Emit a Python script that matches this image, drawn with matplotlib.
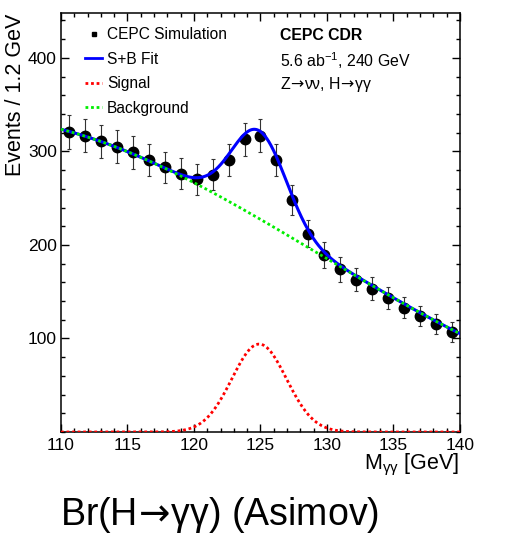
import numpy as np
import matplotlib
matplotlib.use('Agg')
import matplotlib.pyplot as plt
from matplotlib.lines import Line2D
from matplotlib.ticker import MultipleLocator, FixedLocator

plt.rcParams['font.family'] = ['Liberation Sans', 'DejaVu Sans']

# Asimov data, 1.2 GeV bins
mass_centers = [110.6, 111.8, 113.0, 114.2, 115.4, 116.6, 117.8, 119.0, 120.2,
                121.4, 122.6, 123.8, 125.0, 126.2, 127.4, 128.6, 129.8, 131.0,
                132.2, 133.4, 134.6, 135.8, 137.0, 138.2, 139.4]
counts = [321, 317, 311, 305, 299, 291, 283, 276, 270, 275, 291, 313, 317,
          291, 248, 212, 189, 174, 163, 153, 143, 133, 124, 115, 107]

# background curve
bkg_mass = [110, 112.5, 115, 117.5, 120, 122.5, 125, 127.5, 130, 132.5, 135, 137.5, 140]
bkg_events = [323, 313, 300, 286, 268, 246, 225, 205, 186, 165, 145, 124, 104]

# signal peak (gaussian fit parameters)
sig_mean = 124.9
sig_sigma = 2.05
sig_peak = 94.0

fig = plt.figure(figsize=(5.09, 5.48), dpi=100)
ax = fig.add_axes([61 / 509, 116 / 548, 399 / 509, 419 / 548])

m = np.linspace(110, 140, 600)
bkg_coef = np.polyfit(bkg_mass, bkg_events, 3)
bkg = np.polyval(bkg_coef, m)
sig = sig_peak * np.exp(-0.5 * ((m - sig_mean) / sig_sigma) ** 2)

y = np.array(counts, dtype=float)
ax.errorbar(mass_centers, y, yerr=np.sqrt(y), fmt='o', color='black',
            ecolor='#333333', elinewidth=0.8, capsize=1.6, capthick=0.8,
            markersize=7.5, zorder=3)
ax.plot(m, bkg + sig, color='#0000ff', lw=2.2, zorder=4)
ax.plot(m, sig, color='#ff0000', lw=2.0, ls=(0, (1, 1)), zorder=5)
ax.plot(m, bkg, color='#00ee00', lw=2.0, ls=(0, (1, 1)), zorder=6)

ax.set_xlim(110, 140)
ax.set_ylim(0, 448)
ax.xaxis.set_major_locator(MultipleLocator(5))
ax.xaxis.set_minor_locator(MultipleLocator(1))
ax.yaxis.set_major_locator(FixedLocator([100, 200, 300, 400]))
ax.yaxis.set_minor_locator(MultipleLocator(20))
ax.tick_params(which='both', direction='in', top=True, right=True, width=1.0)
ax.tick_params(which='major', length=5.8, labelsize=12.5)
ax.tick_params(axis='y', which='major', pad=3)
ax.tick_params(axis='x', which='major', pad=4)
ax.tick_params(which='minor', length=2.9)
for s in ax.spines.values():
    s.set_linewidth(1.1)

fig.text(459 / 509, 1 - 465 / 548, r'M$_{\mathregular{γγ}}$ [GeV]', ha='right',
         va='center', fontsize=15.5)
fig.text(16 / 509, 1 - 14 / 548, 'Events / 1.2 GeV', rotation=90, ha='center',
         va='top', fontsize=15.5)

handles = [
    Line2D([], [], marker='s', ls='none', color='black', markersize=3.5),
    Line2D([], [], color='#0000ff', lw=2.0),
    Line2D([], [], color='#ff0000', lw=2.0, ls=(0, (1, 1))),
    Line2D([], [], color='#00ee00', lw=2.0, ls=(0, (1, 1))),
]
labels = ['CEPC Simulation', 'S+B Fit', 'Signal', 'Background']
fig.legend(handles, labels, loc='upper left', bbox_to_anchor=(85 / 509, 1 - 27 / 548),
           frameon=False, fontsize=11.2, handlelength=1.1, handletextpad=0.3,
           labelspacing=0.62, borderpad=0, borderaxespad=0)

arrow = r'$\!\rightarrow\!$'
fig.text(280 / 509, 1 - 36 / 548, 'CEPC CDR', fontsize=11.4, fontweight='bold',
         va='center')
fig.text(280 / 509, 1 - 61 / 548, r'5.6 ab$^{\mathregular{-1}}$, 240 GeV',
         fontsize=11.4, va='center')
fig.text(280 / 509, 1 - 85 / 548, 'Z' + arrow + 'νν, H' + arrow + 'γγ',
         fontsize=11.4, va='center')

fig.text(220 / 509, 1 - 515 / 548, 'Br(H' + arrow + 'γγ) (Asimov)', fontsize=27,
         ha='center', va='center')

fig.savefig('out.png', dpi=100)
